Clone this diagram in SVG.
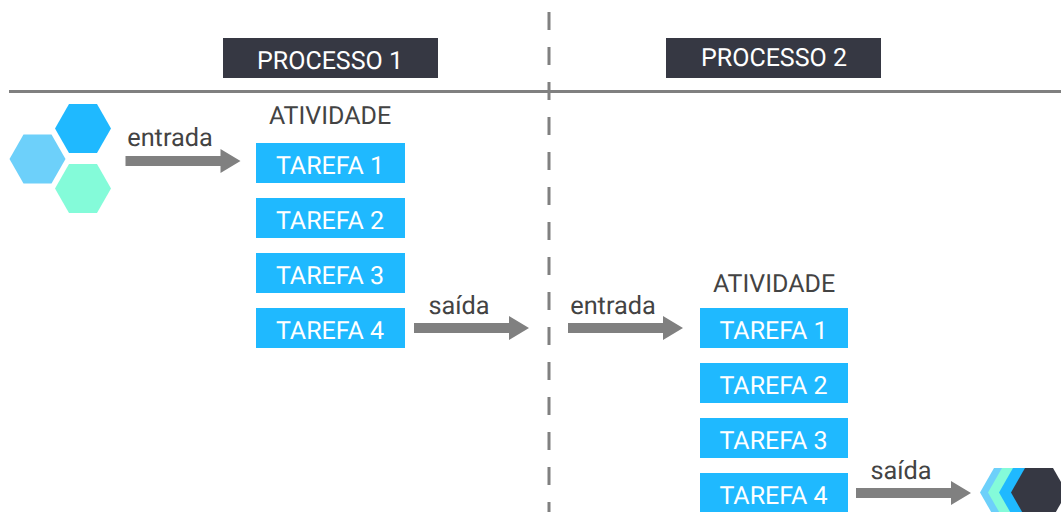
<svg xmlns="http://www.w3.org/2000/svg" width="1061" height="512" viewBox="0 0 1061 512">
<style>
text{font-family:Roboto,"Liberation Sans",sans-serif;font-size:25px;text-rendering:geometricPrecision}
.d{fill:#434343}
.s{font-size:25.300px}
.w{fill:#fff}
.m{text-anchor:middle}
.b{fill:#1fb9ff}
.l{fill:#6dd0fa}
.g{fill:#84fbd9}
.k{fill:#363843}
.a{fill:#808080}
</style>
<defs>
<polygon id="hex" points="0,24.5 14,0 42,0 56,24.5 42,49 14,49"/>
<polygon id="arrow" points="0,-5 95,-5 95,-12 115,0 95,12 95,5 0,5"/>
<rect id="task" width="149" height="40" class="b"/>
<rect id="task2" width="148" height="40" class="b"/>
</defs>
<g id="connectors">
<line x1="549" y1="12" x2="549" y2="512" stroke="#808080" stroke-width="3" stroke-dasharray="18 17"/>
<line x1="9" y1="91.500" x2="1061" y2="91.500" stroke="#808080" stroke-width="3"/>
<use href="#arrow" x="125.500" y="161" class="a"/>
<use href="#arrow" x="414" y="328" class="a"/>
<use href="#arrow" x="568" y="328" class="a"/>
<use href="#arrow" x="856" y="493" class="a"/>
</g>
<g id="header-1"><rect x="223" y="38" width="215" height="40" class="k"/><text x="330" y="69" class="w m">PROCESSO 1</text></g>
<g id="header-2"><rect x="666" y="38" width="215" height="40" class="k"/><text x="774" y="66" class="w m">PROCESSO 2</text></g>
<g id="input-hexagons">
<use href="#hex" x="55" y="104" class="b"/>
<use href="#hex" x="9.500" y="134.500" class="l"/>
<use href="#hex" x="55" y="164" class="g"/>
</g>
<g id="output-hexagons">
<use href="#hex" x="980" y="468" class="l"/>
<use href="#hex" x="988" y="468" class="g"/>
<use href="#hex" x="999" y="468" class="b"/>
<use href="#hex" x="1011" y="468" class="k"/>
</g>
<g id="labels" class="d">
<text x="330" y="124" class="d m">ATIVIDADE</text>
<text x="774" y="292" class="d m">ATIVIDADE</text>
<text x="170" y="146" class="d m s">entrada</text>
<text x="459" y="314" class="d m s">saída</text>
<text x="613" y="314" class="d m s">entrada</text>
<text x="901" y="479" class="d m s">saída</text>
</g>
<g id="p1-tarefa-1"><use href="#task" x="256" y="143"/><text x="330" y="174" class="w m">TAREFA 1</text></g>
<g id="p1-tarefa-2"><use href="#task" x="256" y="198"/><text x="330" y="229" class="w m">TAREFA 2</text></g>
<g id="p1-tarefa-3"><use href="#task" x="256" y="253"/><text x="330" y="284" class="w m">TAREFA 3</text></g>
<g id="p1-tarefa-4"><use href="#task" x="256" y="308"/><text x="330" y="339" class="w m">TAREFA 4</text></g>
<g id="p2-tarefa-1"><use href="#task2" x="700" y="308"/><text x="773.500" y="339" class="w m">TAREFA 1</text></g>
<g id="p2-tarefa-2"><use href="#task2" x="700" y="363"/><text x="773.500" y="394" class="w m">TAREFA 2</text></g>
<g id="p2-tarefa-3"><use href="#task2" x="700" y="418"/><text x="773.500" y="449" class="w m">TAREFA 3</text></g>
<g id="p2-tarefa-4"><use href="#task2" x="700" y="473"/><text x="773.500" y="504" class="w m">TAREFA 4</text></g>
</svg>
